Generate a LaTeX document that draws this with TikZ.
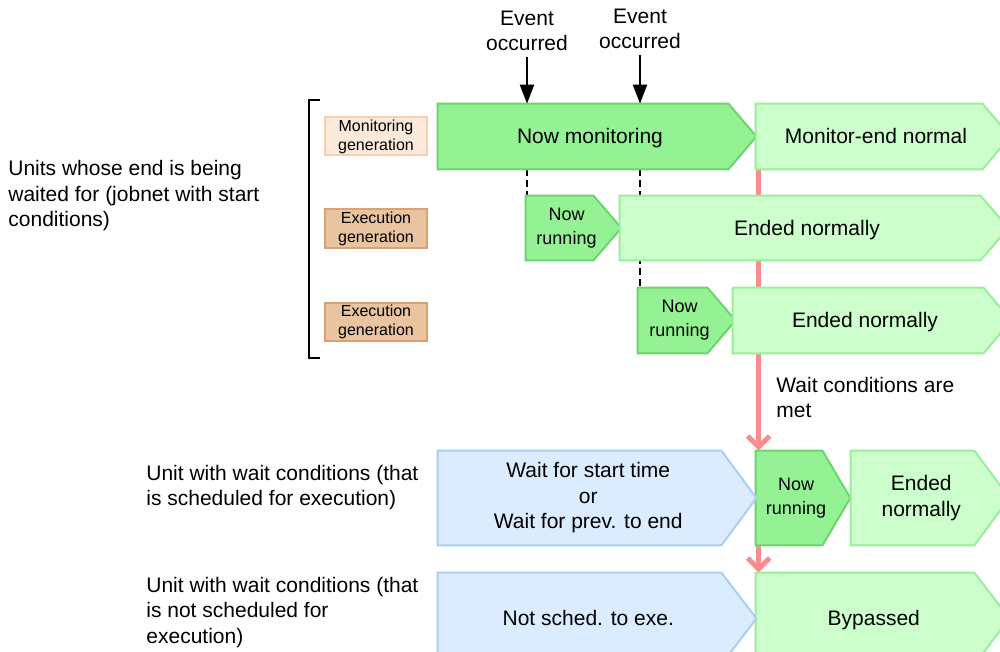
\documentclass[tikz,border=0pt]{standalone}
\usepackage{fontspec}
\setmainfont{Liberation Sans}
\usepackage{xcolor}
\usepackage{tikz}
\usetikzlibrary{positioning, arrows.meta, calc, backgrounds}
\definecolor{runfill}{HTML}{94F294}
\definecolor{runline}{HTML}{6CD46C}
\definecolor{endfill}{HTML}{CCFFCC}
\definecolor{endline}{HTML}{99EE99}
\definecolor{waitfill}{HTML}{DBECFF}
\definecolor{waitline}{HTML}{A8CFF5}
\definecolor{monfill}{HTML}{FBE9DA}
\definecolor{monline}{HTML}{F3D2B4}
\definecolor{exefill}{HTML}{E8C4A0}
\definecolor{exeline}{HTML}{D9A272}
\definecolor{metline}{HTML}{F98C8C}

\begin{document}
\begin{tikzpicture}[x=0.5pt, y=-0.5pt, font=\fontsize{10.5}{12.75}\selectfont,
 genbox/.style={draw, line width=1pt, minimum width=51pt, minimum height=19pt, inner sep=0pt, align=center, font=\fontsize{8}{9.5}\selectfont},
 stbox/.style={inner sep=0pt, align=center},
 oneline/.style={stbox, text height=0.96em, text depth=0.25em},
 smallst/.style={stbox, font=\fontsize{9}{12}\selectfont},
 runbox/.style={fill=runfill, draw=runline, line width=1pt},
 endbox/.style={fill=endfill, draw=endline, line width=1pt},
 waitbox/.style={fill=waitfill, draw=waitline, line width=1pt},
 lbl/.style={align=left, inner sep=0pt},
 evarrow/.style={line width=1.2pt, -{Triangle[width=7pt, length=9.5pt]}},
 dashline/.style={line width=1.4pt, dash pattern=on 3.5pt off 2pt},
 metarrow/.style={draw=metline, line width=2.5pt, -{Straight Barb[length=5.5pt, width=11pt]}}]

\useasboundingbox (0,0) rectangle (1000,652);

\node[oneline, minimum width=152pt, minimum height=32.5pt](mon) at (590,136.5){Now monitoring};
\node[oneline, minimum width=120pt, minimum height=32.5pt](monend) at (876,136.5){Monitor-end normal};
\node[smallst, minimum width=40.5pt, minimum height=32pt](run1) at (566.5,228){Now\\running};
\node[oneline, minimum width=187pt, minimum height=32pt](end1) at (807,228){Ended normally};
\node[smallst, minimum width=41.5pt, minimum height=32.5pt](run2) at (679.5,320.5){Now\\running};
\node[oneline, minimum width=132pt, minimum height=32.5pt](end2) at (865,320.5){Ended normally};
\node[stbox, minimum width=150.25pt, minimum height=47pt](waitst) at (588.25,498){Wait for start time\\or\\Wait for prev. to end};
\node[smallst, minimum width=40pt, minimum height=47pt](run3) at (796,498){Now\\running};
\node[stbox, minimum width=70.25pt, minimum height=47pt](end3) at (921.25,498){Ended\\normally};
\node[oneline, minimum width=150.25pt, minimum height=45.5pt](nosched) at (588.25,618.5){Not sched. to exe.};
\node[oneline, minimum width=117.75pt, minimum height=45.5pt](bypass) at (873.75,618.5){Bypassed};

\node[genbox, fill=monfill, draw=monline](mongen) at (376,136.5){Monitoring\\generation};
\node[genbox, fill=exefill, draw=exeline](exegen1) at (376,228.5){Execution\\generation};
\node[genbox, fill=exefill, draw=exeline](exegen2) at (376,321.5){Execution\\generation};

\node[stbox](ev1) at (527,31){Event\\occurred};
\node[stbox](ev2) at (640,29){Event\\occurred};

\node[lbl, anchor=west](waited) at (8,196){Units whose end is being\\waited for (jobnet with start\\conditions)};
\node[lbl, anchor=west](sched) at (146,487.5){Unit with wait conditions (that\\is scheduled for execution)};
\node[lbl, anchor=west](notsched) at (146,612.5){Unit with wait conditions (that\\is not scheduled for\\execution)};
\node[lbl, anchor=west](metlbl) at (776,397.5){Wait conditions are\\met};

\draw[line width=1pt](320,100) -- (309,100) -- (309,358) -- (320,358);

\foreach \e in {ev1,ev2}
  {\draw[evarrow]([yshift=-3pt]\e.south) -- (\e |- mon.north);}

\begin{scope}[on background layer]
\draw[dashline](ev1 |- mon.south) -- (ev1 |- run1.north);
\draw[dashline](ev2 |- mon.south) -- (ev2 |- run2.north);
\draw[metarrow]([xshift=1.5pt]monend.south west) -- ([xshift=1.5pt]run3.north west);
\draw[metarrow]([xshift=1.5pt]run3.south west) -- ([xshift=1.5pt]bypass.north west);

\foreach \n/\h in {mon/7pt,run1/7pt,run2/7pt,run3/7pt}
  {\draw[runbox](\n.north west) -- ([xshift=-\h]\n.north east) -- ([xshift=\h]\n.east) -- ([xshift=-\h]\n.south east) -- (\n.south west) -- cycle;}
\foreach \n/\h in {monend/7pt,end1/7pt,end2/7pt,end3/8.75pt,bypass/8.75pt}
  {\draw[endbox](\n.north west) -- ([xshift=-\h]\n.north east) -- ([xshift=\h]\n.east) -- ([xshift=-\h]\n.south east) -- (\n.south west) -- cycle;}
\foreach \n/\h in {waitst/8.75pt,nosched/8.75pt}
  {\draw[waitbox](\n.north west) -- ([xshift=-\h]\n.north east) -- ([xshift=\h]\n.east) -- ([xshift=-\h]\n.south east) -- (\n.south west) -- cycle;}
\end{scope}

\end{tikzpicture}
\end{document}
